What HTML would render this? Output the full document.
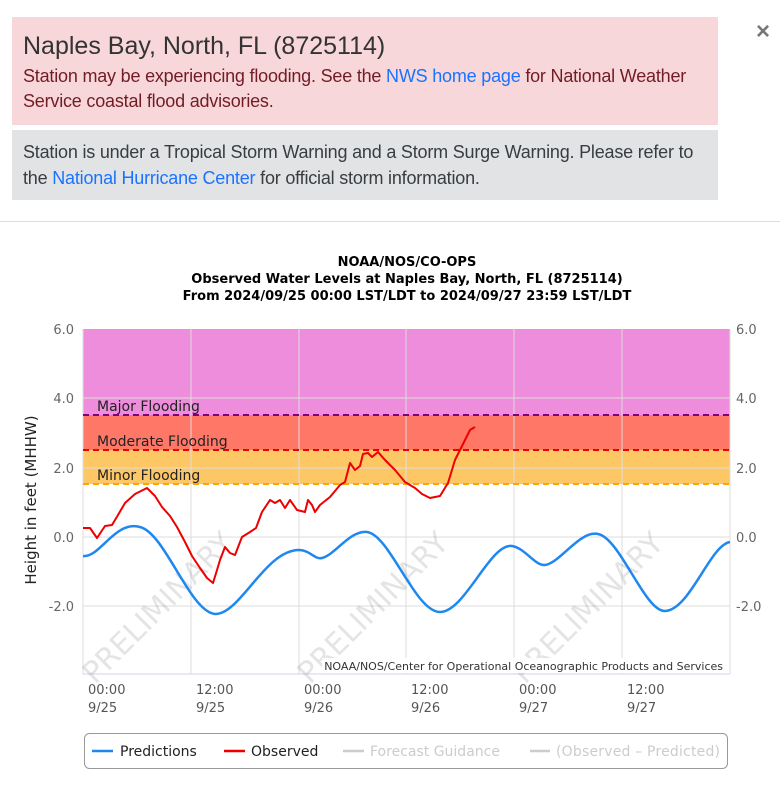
<!DOCTYPE html>
<html><head><meta charset="utf-8"><style>
body{margin:0;width:780px;height:786px;background:#fff;font-family:"Liberation Sans",Arial,sans-serif;position:relative;overflow:hidden}
.box{position:absolute;left:12px;width:706px;box-sizing:border-box;padding:0 11px}
.pink{top:17px;height:108px;background:#f8d7da;color:#721c24}
.gray{top:130px;height:70px;background:#e2e3e5;color:#383d41}
a{color:#1a73ff;text-decoration:none}
.t{font-size:25px;color:#333;position:absolute;top:15px;left:11px;white-space:nowrap}
.p{font-size:18px;line-height:25px;position:absolute;left:11px;letter-spacing:-0.2px;white-space:nowrap}
</style></head><body>
<div class="box pink"><div class="t">Naples Bay, North, FL (8725114)</div>
<div class="p" style="top:47px">Station may be experiencing flooding. See the <a>NWS home page</a> for National Weather<br>Service coastal flood advisories.</div></div>
<div class="box gray"><div class="p" style="top:9px;line-height:26px">Station is under a Tropical Storm Warning and a Storm Surge Warning. Please refer to<br>the <a>National Hurricane Center</a> for official storm information.</div></div>
<div style="position:absolute;left:756px;top:18px;font-size:24px;font-weight:bold;color:#777">×</div>
<div style="position:absolute;left:0;top:221px;width:780px;height:1px;background:#ddd"></div>
<svg width="780" height="786" style="position:absolute;left:0;top:0" font-family="DejaVu Sans, Verdana, sans-serif">
<g font-size="13" font-weight="bold" text-anchor="middle" fill="#000">
<text x="407" y="266">NOAA/NOS/CO-OPS</text>
<text x="407" y="283">Observed Water Levels at Naples Bay, North, FL (8725114)</text>
<text x="407" y="300">From 2024/09/25 00:00 LST/LDT to 2024/09/27 23:59 LST/LDT</text>
</g>
<rect x="83" y="329" width="647" height="86" fill="#ee8ddc"/>
<rect x="83" y="415" width="647" height="35" fill="#ff7766"/>
<rect x="83" y="450" width="647" height="34" fill="#fdc766"/>
<g stroke="#ddd" stroke-width="1">
<line x1="83" y1="398" x2="730" y2="398"/><line x1="83" y1="468" x2="730" y2="468"/>
<line x1="83" y1="537" x2="730" y2="537"/><line x1="83" y1="606" x2="730" y2="606"/>
<line x1="191" y1="329" x2="191" y2="674"/><line x1="299" y1="329" x2="299" y2="674"/>
<line x1="406" y1="329" x2="406" y2="674"/><line x1="514" y1="329" x2="514" y2="674"/>
<line x1="622" y1="329" x2="622" y2="674"/><line x1="730" y1="329" x2="730" y2="674"/>
<line x1="83" y1="329" x2="83" y2="674"/>
</g>
<line x1="83" y1="674" x2="730" y2="674" stroke="#ccd6eb"/>
<g stroke-width="2" stroke-dasharray="6,4">
<line x1="83" y1="415" x2="730" y2="415" stroke="#800080"/>
<line x1="83" y1="450" x2="730" y2="450" stroke="#e00"/>
<line x1="83" y1="484" x2="730" y2="484" stroke="#ffa500"/>
</g>
<g font-size="14" fill="#222">
<text x="97" y="411">Major Flooding</text>
<text x="97" y="446">Moderate Flooding</text>
<text x="97" y="480">Minor Flooding</text>
</g>
<g font-size="30" fill="#000" opacity="0.1">
<text transform="translate(95,685) rotate(-45)">PRELIMINARY</text>
<text transform="translate(310,685) rotate(-45)">PRELIMINARY</text>
<text transform="translate(525,685) rotate(-45)">PRELIMINARY</text>
</g>
<path fill="none" stroke="#1e88f0" stroke-width="2.5" d="M83,556 C100,558 115,520 140,527 C165,533 190,612 215,614 C240,615 265,550 299,550 C310,550 315,560 322,558 C335,555 350,530 367,532 C390,535 415,612 440,612 C465,612 490,543 512,546 C525,548 535,566 545,565 C560,563 580,530 598,534 C620,538 645,612 665,611 C690,610 710,545 730,542"/>
<polyline fill="none" stroke="#e00" stroke-width="2" stroke-linejoin="round" points="83,528 90,528 97,538 105,526 112,525 118,515 125,503 135,494 147,488 155,496 162,507 170,516 177,527 185,542 192,556 200,568 207,578 213,583 217,570 220,560 225,547 230,553 235,555 242,537 250,532 256,528 262,512 270,500 275,503 280,500 285,508 290,500 297,510 305,512 308,500 312,505 315,512 320,505 330,497 340,485 345,482 350,463 355,470 360,466 363,454 368,453 372,457 378,452 385,460 395,470 405,482 415,488 422,494 430,498 440,496 448,483 455,460 465,440 470,430 475,427"/>
<rect x="322" y="658" width="406" height="15" fill="#fff" opacity="0.9"/>
<text x="723" y="670" font-size="11" fill="#333" text-anchor="end">NOAA/NOS/Center for Operational Oceanographic Products and Services</text>
<g font-size="13" fill="#666" text-anchor="end">
<text x="74" y="334">6.0</text><text x="74" y="403">4.0</text><text x="74" y="473">2.0</text><text x="74" y="542">0.0</text><text x="74" y="611">-2.0</text>
</g>
<g font-size="13" fill="#666">
<text x="736" y="334">6.0</text><text x="736" y="403">4.0</text><text x="736" y="473">2.0</text><text x="736" y="542">0.0</text><text x="736" y="611">-2.0</text>
</g>
<text transform="translate(36,500) rotate(-90)" font-size="15" text-anchor="middle" fill="#222">Height in feet (MHHW)</text>
<g font-size="13" fill="#555">
<text x="88" y="694">00:00</text><text x="88" y="712">9/25</text>
<text x="196" y="694">12:00</text><text x="196" y="712">9/25</text>
<text x="304" y="694">00:00</text><text x="304" y="712">9/26</text>
<text x="411" y="694">12:00</text><text x="411" y="712">9/26</text>
<text x="519" y="694">00:00</text><text x="519" y="712">9/27</text>
<text x="627" y="694">12:00</text><text x="627" y="712">9/27</text>
</g>
<rect x="84.5" y="733.5" width="643" height="35" rx="5" fill="#fff" stroke="#999"/>
<g font-size="14">
<line x1="92" y1="751" x2="113" y2="751" stroke="#1e88f0" stroke-width="2.5"/><text x="120" y="756" fill="#222">Predictions</text>
<line x1="224" y1="751" x2="245" y2="751" stroke="#e00" stroke-width="2.5"/><text x="251" y="756" fill="#222">Observed</text>
<line x1="343" y1="751" x2="364" y2="751" stroke="#ccc" stroke-width="2.5"/><text x="370" y="756" fill="#ccc">Forecast Guidance</text>
<line x1="530" y1="751" x2="550" y2="751" stroke="#ccc" stroke-width="2.5"/><text x="556" y="756" fill="#ccc" textLength="164">(Observed – Predicted)</text>
</g>
</svg>
</body></html>
